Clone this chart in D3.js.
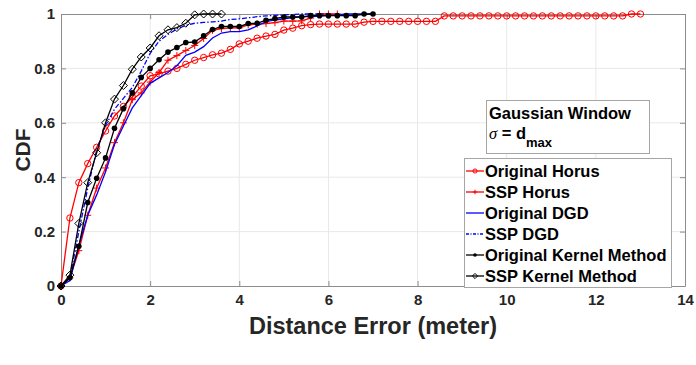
<!DOCTYPE html>
<html><head><meta charset="utf-8">
<script src="https://cdn.jsdelivr.net/npm/d3@7"></script>
<style>
html,body{margin:0;padding:0;background:#fff;}
svg{display:block;font-family:"Liberation Sans",Arial,sans-serif;}
</style></head><body>
<svg id="chart" width="696" height="365"></svg>
<script>
// Distance error grid (meters), sampled every 0.2 m
const distance = [0,0.2,0.4,0.6,0.8,1,1.2,1.4,1.6,1.8,2,2.2,2.4,2.6,2.8,3,3.2,3.4,3.6,3.8,4,4.2,4.4,4.6,4.8,5,5.2,5.4,5.6,5.8,6,6.2,6.4,6.6,6.8,7,7.2,7.4,7.6,7.8,8,8.2,8.4,8.6,8.8,9,9.2,9.4,9.6,9.8,10,10.2,10.4,10.6,10.8,11,11.2,11.4,11.6,11.8,12,12.2,12.4,12.6,12.8,13];

// CDF values for each method, starting at distance 0
const originalHorus = [0,0.25,0.38,0.45,0.51,0.57,0.625,0.66,0.695,0.735,0.773,0.78,0.79,0.80,0.815,0.83,0.84,0.85,0.856,0.87,0.89,0.90,0.911,0.919,0.925,0.941,0.948,0.957,0.961,0.963,0.963,0.963,0.963,0.963,0.97,0.973,0.973,0.973,0.973,0.973,0.973,0.973,0.973,0.993,0.993,0.993,0.993,0.993,0.993,0.993,0.993,0.993,0.993,0.993,0.993,0.993,0.993,0.993,0.993,0.993,0.993,0.993,0.993,0.993,1,1];
const sspHorus = [0,0.03,0.13,0.26,0.36,0.434,0.527,0.60,0.685,0.71,0.75,0.785,0.83,0.847,0.866,0.884,0.91,0.94,0.946,0.949,0.949,0.96,0.963,0.965,0.968,0.974,0.974,0.975,0.985,1,1,1];
const originalDGD = [0,0.02,0.15,0.26,0.335,0.42,0.52,0.588,0.655,0.70,0.745,0.765,0.785,0.81,0.848,0.86,0.88,0.912,0.93,0.935,0.935,0.942,0.956,0.972,0.978,0.982,0.987,0.99,0.99,0.992,0.995,0.997,1,1,1,1];
const sspDGD = [0,0.03,0.2,0.36,0.50,0.59,0.65,0.69,0.73,0.79,0.855,0.90,0.925,0.945,0.958,0.966,0.969,0.971,0.974,0.98,0.982,0.986,0.99,0.993,0.995,0.997,0.998,1,1,1,1];
const originalKernel = [0,0.03,0.146,0.307,0.396,0.471,0.58,0.652,0.71,0.767,0.80,0.832,0.86,0.877,0.895,0.897,0.92,0.943,0.954,0.954,0.954,0.965,0.966,0.977,0.983,0.989,0.989,0.989,0.994,0.994,0.994,0.994,0.994,0.994,1,1];
const sspKernel = [0,0.04,0.23,0.38,0.49,0.60,0.687,0.737,0.797,0.842,0.875,0.92,0.942,0.95,0.966,0.997,1,1,1];

const seriesNames = ["Original Horus","SSP Horus","Original DGD","SSP DGD","Original Kernel Method","SSP Kernel Method"];
const xTicks = [0,2,4,6,8,10,12,14];
const yTicks = [0,0.2,0.4,0.6,0.8,1];
const yTickLabels = ["0","0.2","0.4","0.6","0.8","1"];

const series = [
  {name: seriesNames[0], values: originalHorus, color: "#ff0000", marker: "circle", dash: null},
  {name: seriesNames[1], values: sspHorus, color: "#ff0000", marker: "plus", dash: null},
  {name: seriesNames[2], values: originalDGD, color: "#0000ff", marker: null, dash: null},
  {name: seriesNames[3], values: sspDGD, color: "#0000ff", marker: null, dash: "5,2,1.5,2"},
  {name: seriesNames[4], values: originalKernel, color: "#000000", marker: "dot", dash: null},
  {name: seriesNames[5], values: sspKernel, color: "#000000", marker: "diamond", dash: null}
];

const W = 696, H = 365;
const margin = {left: 61, right: 11, top: 14, bottom: 79};
const svg = d3.select("#chart");
const x = d3.scaleLinear().domain([0,14]).range([margin.left, W - margin.right]);
const y = d3.scaleLinear().domain([0,1]).range([H - margin.bottom, margin.top]);

const textColor = "#262626";
const axisColor = "#8c8c8c";

// grid
const grid = svg.append("g");
grid.selectAll(".gx").data(xTicks.slice(1,-1)).join("line")
  .attr("x1", d => x(d)).attr("x2", d => x(d))
  .attr("y1", y(0)).attr("y2", y(1))
  .attr("stroke", "#e8e8e8").attr("stroke-width", 1);
grid.selectAll(".gy").data(yTicks.slice(1,-1)).join("line")
  .attr("x1", x(0)).attr("x2", x(14))
  .attr("y1", d => y(d)).attr("y2", d => y(d))
  .attr("stroke", "#e8e8e8").attr("stroke-width", 1);

// axes with inward ticks on all four sides
const xAxis = svg.append("g").attr("transform", `translate(0,${y(0)})`)
  .call(d3.axisBottom(x).tickValues(xTicks).tickSizeInner(-5).tickSizeOuter(0).tickPadding(8));
const yAxis = svg.append("g").attr("transform", `translate(${x(0)},0)`)
  .call(d3.axisLeft(y).tickValues(yTicks).tickFormat((d,i) => yTickLabels[i]).tickSizeInner(-5).tickSizeOuter(0).tickPadding(6));
const xTop = svg.append("g").attr("transform", `translate(0,${y(1)})`)
  .call(d3.axisTop(x).tickValues(xTicks).tickSizeInner(-5).tickSizeOuter(0).tickFormat(""));
const yRight = svg.append("g").attr("transform", `translate(${x(14)},0)`)
  .call(d3.axisRight(y).tickValues(yTicks).tickSizeInner(-5).tickSizeOuter(0).tickFormat(""));
[xAxis, yAxis, xTop, yRight].forEach(g => {
  g.select(".domain").attr("stroke", axisColor);
  g.selectAll(".tick line").attr("stroke", axisColor);
  g.selectAll(".tick text").attr("fill", textColor).attr("font-size", 15).attr("font-weight", "bold")
    .attr("font-family", "'Liberation Sans', Arial, sans-serif");
});

// axis titles
svg.append("text").attr("x", (x(0) + x(14)) / 2).attr("y", 334)
  .attr("text-anchor", "middle").attr("font-size", 23.5).attr("font-weight", "bold")
  .attr("fill", textColor).text("Distance Error (meter)");
svg.append("text").attr("transform", `translate(30,${(y(0) + y(1)) / 2}) rotate(-90)`)
  .attr("text-anchor", "middle").attr("font-size", 21).attr("font-weight", "bold")
  .attr("fill", textColor).text("CDF");

// marker shapes
function drawMarker(g, type, color, cx, cy, s) {
  if (type === "circle") {
    g.append("circle").attr("cx", cx).attr("cy", cy).attr("r", 3.2 * s)
      .attr("fill", "none").attr("stroke", color).attr("stroke-width", 1);
  } else if (type === "plus") {
    const h = 3.5 * s;
    g.append("path").attr("d", `M${cx - h},${cy}H${cx + h}M${cx},${cy - h}V${cy + h}`)
      .attr("stroke", color).attr("stroke-width", 1).attr("fill", "none");
  } else if (type === "dot") {
    g.append("circle").attr("cx", cx).attr("cy", cy).attr("r", 2.8 * s).attr("fill", color);
  } else if (type === "diamond") {
    const h = 4 * s;
    g.append("path").attr("d", `M${cx},${cy - h}L${cx + h},${cy}L${cx},${cy + h}L${cx - h},${cy}Z`)
      .attr("stroke", color).attr("stroke-width", 1).attr("fill", "none");
  }
}

const line = d3.line().x(d => x(d[0])).y(d => y(d[1]));
const plot = svg.append("g");
series.forEach(s => {
  const pts = s.values.map((v, i) => [distance[i], v]);
  plot.append("path").datum(pts).attr("d", line)
    .attr("fill", "none").attr("stroke", s.color).attr("stroke-width", 1.3)
    .attr("stroke-dasharray", s.dash);
  if (s.marker) {
    const mg = plot.append("g");
    pts.forEach(p => drawMarker(mg, s.marker, s.color, x(p[0]), y(p[1]), 1));
  }
});

// annotation box
const ann = svg.append("g");
ann.append("rect").attr("x", 486.5).attr("y", 100.5).attr("width", 163).attr("height", 53)
  .attr("fill", "#fff").attr("stroke", "#a6a6a6").attr("stroke-width", 1);
ann.append("text").attr("x", 489).attr("y", 119).attr("font-size", 16.5).attr("font-weight", "bold")
  .attr("fill", "#000").text("Gaussian Window");
const sig = ann.append("text").attr("x", 489).attr("y", 139).attr("font-size", 16.5).attr("fill", "#000");
sig.append("tspan").attr("font-family", "'Liberation Serif', 'Times New Roman', serif").attr("font-style", "italic").text("σ");
sig.append("tspan").attr("font-weight", "bold").text(" = d");
sig.append("tspan").attr("font-weight", "bold").attr("font-size", 13).attr("dy", 8).text("max");

// legend
const leg = svg.append("g");
leg.append("rect").attr("x", 464.5).attr("y", 158.5).attr("width", 207).attr("height", 129)
  .attr("fill", "#fff").attr("stroke", "#a6a6a6").attr("stroke-width", 1);
series.forEach((s, i) => {
  const cy = 171 + i * 21;
  leg.append("line").attr("x1", 466).attr("x2", 484).attr("y1", cy).attr("y2", cy)
    .attr("stroke", s.color).attr("stroke-width", 1.3).attr("stroke-dasharray", s.dash ? "3,1.5,1,1.5" : null);
  if (s.marker) drawMarker(leg, s.marker, s.color, 475, cy, 0.65);
  leg.append("text").attr("x", 485).attr("y", cy + 6).attr("font-size", 16.5).attr("font-weight", "bold")
    .attr("fill", "#000").text(s.name);
});
</script>
</body></html>
